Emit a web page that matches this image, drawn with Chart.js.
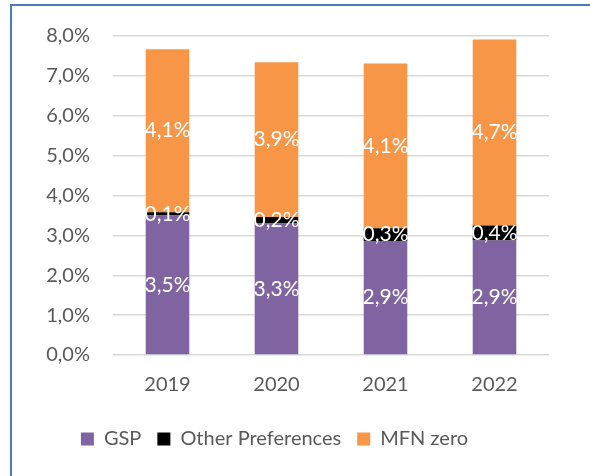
<!DOCTYPE html>
<html>
<head>
<meta charset="utf-8">
<script src="https://cdn.jsdelivr.net/npm/chart.js@4.4.1/dist/chart.umd.min.js"></script>
<style>
    body { margin: 0; background: #fff; }
    #wrap { position: relative; width: 590px; height: 476px; }
    #chart { position: absolute; left: 0; top: 0; }
    /* blue frame of the text box the chart sits in */
    .frame-top { position: absolute; left: 10px; top: 4px; width: 580px; height: 2px; background: #4a7ebb; }
    .frame-left { position: absolute; left: 10px; top: 4px; width: 2px; height: 472px; background: #4a7ebb; }
</style>
</head>
<body>
<div id="wrap">
    <canvas id="chart" width="590" height="476"></canvas>
    <div class="frame-top"></div>
    <div class="frame-left"></div>
</div>
<script>
// data
const years = ["2019", "2020", "2021", "2022"];
const gsp = [3.50, 3.30, 2.86, 2.87];
const otherPrefs = [0.08, 0.16, 0.32, 0.38];
const mfnZero = [4.09, 3.88, 4.13, 4.66];
const yTicks = [0, 1, 2, 3, 4, 5, 6, 7, 8];

const FONT = "Lato, 'Open Sans', sans-serif";

function pct(v) {
    return v.toFixed(1).replace(".", ",") + "%";
}

// white value labels in the middle of each segment
const segmentLabels = {
    id: "segmentLabels",
    afterDatasetsDraw(chart) {
        const ctx = chart.ctx;
        ctx.save();
        ctx.fillStyle = "#ffffff";
        ctx.font = "21px " + FONT;
        ctx.textAlign = "center";
        ctx.textBaseline = "middle";
        chart.data.datasets.forEach((ds, i) => {
            const meta = chart.getDatasetMeta(i);
            meta.data.forEach((bar, j) => {
                const y = (bar.y + bar.base) / 2;
                ctx.fillText(pct(ds.data[j]), bar.x, y);
            });
        });
        ctx.restore();
    }
};

new Chart(document.getElementById("chart"), {
    type: "bar",
    data: {
        labels: years,
        datasets: [
            { label: "GSP", data: gsp, backgroundColor: "#8064A2" },
            { label: "Other Preferences", data: otherPrefs, backgroundColor: "#000000" },
            { label: "MFN zero", data: mfnZero, backgroundColor: "#F79646" }
        ]
    },
    options: {
        responsive: false,
        animation: false,
        layout: { padding: { left: 0, right: 41, top: 36, bottom: 17 } },
        datasets: {
            bar: { categoryPercentage: 1.0, barPercentage: 0.4, borderWidth: 0 }
        },
        scales: {
            x: {
                stacked: true,
                grid: { display: false },
                border: { display: false },
                ticks: { color: "#595959", font: { family: FONT, size: 20 }, padding: 10 },
                afterFit(scale) { scale.height = 58; }
            },
            y: {
                stacked: true,
                min: 0,
                max: 8,
                afterBuildTicks(scale) { scale.ticks = yTicks.map(v => ({ value: v })); },
                grid: { color: "#d9d9d9", lineWidth: 1.5, drawTicks: false },
                border: { display: false },
                ticks: {
                    color: "#595959",
                    font: { family: FONT, size: 20 },
                    padding: 23,
                    callback: v => pct(v)
                },
                afterFit(scale) { scale.width = 113; }
            }
        },
        plugins: {
            legend: {
                position: "bottom",
                labels: {
                    color: "#595959",
                    font: { family: FONT, size: 20 },
                    boxWidth: 13,
                    boxHeight: 13,
                    padding: 16
                }
            },
            tooltip: { enabled: false }
        }
    },
    plugins: [segmentLabels]
});
</script>
</body>
</html>
